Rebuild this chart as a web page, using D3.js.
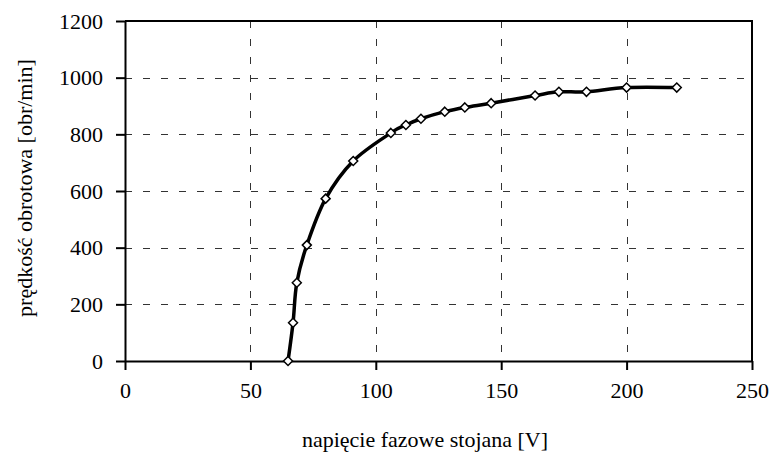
<!DOCTYPE html>
<html>
<head>
<meta charset="utf-8">
<script src="https://cdn.jsdelivr.net/npm/d3@7"></script>
<style>
  body { margin: 0; background: #fff; }
</style>
</head>
<body>
<div id="chart"></div>
<script>
// napięcie fazowe [V] vs prędkość obrotowa [obr/min]
var voltage = [65, 67, 68.5, 72.5, 80, 91, 106, 112, 118, 127.5, 135.5, 146, 163.5, 173, 184, 200, 220];
var speed   = [0, 135, 276, 409, 573, 706, 805, 833, 855, 880, 895, 910, 937, 950, 950, 965, 965];
var xTicks = [0, 50, 100, 150, 200, 250];
var yTicks = [0, 200, 400, 600, 800, 1000, 1200];
var xTitle = "napięcie fazowe stojana [V]";
var yTitle = "prędkość obrotowa [obr/min]";

var serif = "'Liberation Serif'";

function init(){
    var w = 771;
    var h = 454;
    var left = 125, right = 752, top = 21, bottom = 361;

    var data = voltage.map(function(v, i){ return {x: v, y: speed[i]}; });

    var svg = d3.select("#chart")
                .append("svg")
                .attr("width", w)
                .attr("height", h);

    var x = d3.scaleLinear().domain([0, 250]).range([left, right]);
    var y = d3.scaleLinear().domain([0, 1200]).range([bottom, top]);

    // dashed grid
    svg.append("g").selectAll("line")
        .data(yTicks.slice(1, -1))
        .enter()
        .append("line")
        .attr("x1", left).attr("x2", right)
        .attr("y1", function(d){ return Math.round(y(d)) + 0.5; })
        .attr("y2", function(d){ return Math.round(y(d)) + 0.5; })
        .attr("stroke", "#333")
        .attr("stroke-width", 1)
        .attr("stroke-dasharray", "7,11");

    svg.append("g").selectAll("line")
        .data(xTicks.slice(1, -1))
        .enter()
        .append("line")
        .attr("y1", top).attr("y2", bottom)
        .attr("x1", function(d){ return Math.round(x(d)) + 0.5; })
        .attr("x2", function(d){ return Math.round(x(d)) + 0.5; })
        .attr("stroke", "#333")
        .attr("stroke-width", 1)
        .attr("stroke-dasharray", "7,11");

    // frame (top and right)
    svg.append("path")
        .attr("d", "M" + left + "," + top + "H" + right + "V" + bottom)
        .attr("fill", "none")
        .attr("stroke", "#000")
        .attr("stroke-width", 2);

    var fmt = d3.format("d");
    var xAxis = svg.append("g")
        .attr("transform", "translate(0," + bottom + ")")
        .call(d3.axisBottom(x).tickValues(xTicks).tickFormat(fmt).tickSize(9).tickPadding(12).tickSizeOuter(0));
    var yAxis = svg.append("g")
        .attr("transform", "translate(" + left + ",0)")
        .call(d3.axisLeft(y).tickValues(yTicks).tickFormat(fmt).tickSize(9).tickPadding(13).tickSizeOuter(0));

    [xAxis, yAxis].forEach(function(g){
        g.select(".domain").attr("stroke", "#000").attr("stroke-width", 2);
        g.selectAll(".tick line").attr("stroke", "#000").attr("stroke-width", 2);
        g.selectAll(".tick text")
            .attr("fill", "#000")
            .style("font-family", serif)
            .style("font-size", "22px");
    });

    // curve
    var line = d3.line()
        .x(function(d){ return x(d.x); })
        .y(function(d){ return y(d.y); })
        .curve(d3.curveCardinal.tension(0));

    svg.append("path")
        .datum(data)
        .attr("d", line)
        .attr("fill", "none")
        .attr("stroke", "#000")
        .attr("stroke-width", 3.5)
        .attr("stroke-linejoin", "round");

    // diamond markers
    svg.selectAll("path.marker")
        .data(data)
        .enter()
        .append("path")
        .attr("class", "marker")
        .attr("d", "M0,-4.5L4.5,0L0,4.5L-4.5,0Z")
        .attr("transform", function(d){ return "translate(" + x(d.x) + "," + y(d.y) + ")"; })
        .attr("fill", "#fff")
        .attr("stroke", "#000")
        .attr("stroke-width", 1.5);

    // titles
    svg.append("text")
        .text(xTitle)
        .attr("x", 425)
        .attr("y", 447)
        .attr("text-anchor", "middle")
        .style("font-family", serif)
        .style("font-size", "22px");

    svg.append("text")
        .text(yTitle)
        .attr("transform", "translate(32," + 188 + ") rotate(-90)")
        .attr("text-anchor", "middle")
        .style("font-family", serif)
        .style("font-size", "22px");
}
window.onload = init;
</script>
</body>
</html>
